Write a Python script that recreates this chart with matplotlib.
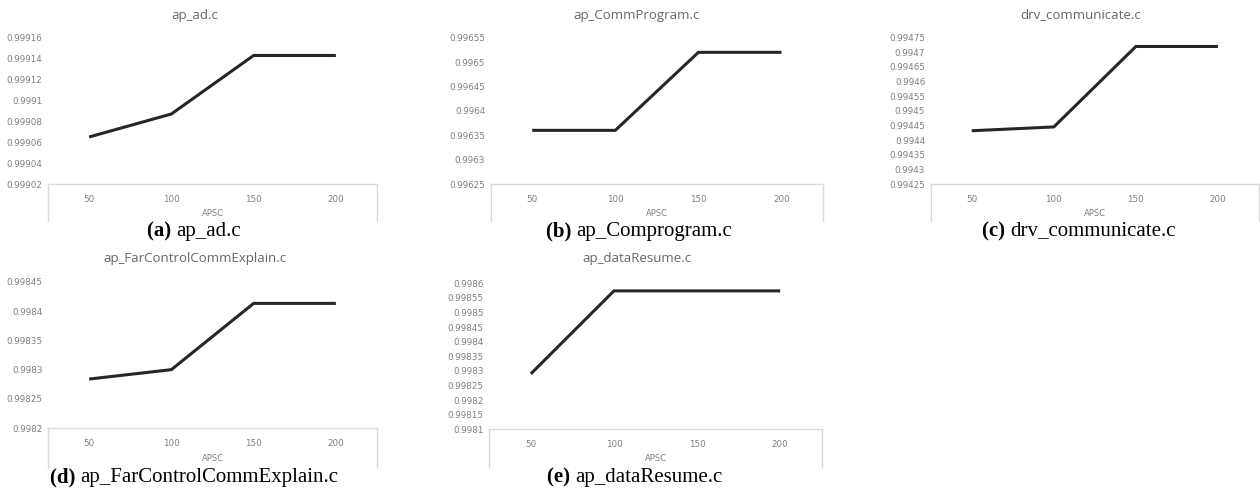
import numpy as np
import matplotlib
matplotlib.use("Agg")
import matplotlib.pyplot as plt
from matplotlib.ticker import FixedLocator, FuncFormatter

# APSC budgets on the category axis
apsc = ['50', '100', '150', '200']

# values, one list per source file
ap_ad = [0.999065, 0.999087, 0.999143, 0.999143]
ap_comm = [0.99636, 0.99636, 0.99652, 0.99652]
drv_comm = [0.994432, 0.994445, 0.99472, 0.99472]
ap_far = [0.998284, 0.99830, 0.998413, 0.998413]
ap_data = [0.998290, 0.998574, 0.998574, 0.998574]

titles = ['ap_ad.c', 'ap_CommProgram.c', 'drv_communicate.c',
          'ap_FarControlCommExplain.c', 'ap_dataResume.c']
captions = [('(a)', 'ap_ad.c'), ('(b)', 'ap_Comprogram.c'),
            ('(c)', 'drv_communicate.c'), ('(d)', 'ap_FarControlCommExplain.c'),
            ('(e)', 'ap_dataResume.c')]

# y ticks as shown in each panel
y_ticks_a = [0.99902, 0.99904, 0.99906, 0.99908, 0.9991, 0.99912, 0.99914, 0.99916]
y_ticks_b = [0.99625, 0.9963, 0.99635, 0.9964, 0.99645, 0.9965, 0.99655]
y_ticks_c = [0.99425, 0.9943, 0.99435, 0.9944, 0.99445, 0.9945, 0.99455,
             0.9946, 0.99465, 0.9947, 0.99475]
y_ticks_d = [0.9982, 0.99825, 0.9983, 0.99835, 0.9984, 0.99845]
y_ticks_e = [0.9981, 0.99815, 0.9982, 0.99825, 0.9983, 0.99835, 0.9984,
             0.99845, 0.9985, 0.99855, 0.9986]

series = [ap_ad, ap_comm, drv_comm, ap_far, ap_data]
yticks = [y_ticks_a, y_ticks_b, y_ticks_c, y_ticks_d, y_ticks_e]

W, H = 1260, 494
# panel boxes in pixels: (left, right, top, bottom of plot area, frame bottom, title x, caption x)
boxes = [
    (48, 377, 37.7, 184, 221.5, 195, 194),
    (490.7, 823, 37.7, 184, 221.5, 637, 639),
    (930.7, 1259, 37.7, 184, 221.5, 1081, 1079),
    (48, 377, 281.7, 428.3, 466.7, 195, 194),
    (489.3, 821.7, 283.3, 429.3, 466.7, 637, 635),
]
title_y = [15, 15, 15, 258, 258]
caption_y = [231, 231, 231, 477, 477]
xlabel_y = [213, 213, 213, 458, 458]

tick_color = '#7f7f7f'
frame_color = '#d9d9d9'
title_color = '#666666'

fig = plt.figure(figsize=(W / 100, H / 100), dpi=100)


def fx(px):
    return px / W


def fy(py):
    return 1 - py / H


for i in range(5):
    l, r, t, b, fb, tx, cx = boxes[i]
    ax = fig.add_axes([fx(l), fy(b), fx(r) - fx(l), (b - t) / H])
    x = np.arange(len(apsc))
    ax.plot(x, series[i], color='#262626', lw=2.2, solid_capstyle='butt',
            solid_joinstyle='miter')
    ax.set_xlim(-0.5, len(apsc) - 0.5)
    ax.set_ylim(yticks[i][0], yticks[i][-1])
    ax.yaxis.set_major_locator(FixedLocator(yticks[i]))
    ax.yaxis.set_major_formatter(FuncFormatter(lambda v, p: '%g' % round(v, 6)))
    ax.set_xticks(x)
    ax.set_xticklabels(apsc)
    ax.tick_params(axis='both', length=0, labelsize=6.3, labelcolor=tick_color)
    ax.tick_params(axis='x', pad=8)
    ax.tick_params(axis='y', pad=4)
    for s in ['top', 'right', 'left']:
        ax.spines[s].set_visible(False)
    ax.spines['bottom'].set_color(frame_color)
    ax.spines['bottom'].set_linewidth(1.0)
    # side edges of the box under the category axis
    depth = (fb - b) / (b - t)
    for xe in (0, 1):
        ax.plot([xe, xe], [0, -depth], transform=ax.transAxes, clip_on=False,
                color=frame_color, lw=1.0)

    fig.text(fx(tx), fy(title_y[i]), titles[i], ha='center', va='center',
             fontsize=9.5, color=title_color, family='Open Sans')
    fig.text(fx((l + r) / 2), fy(xlabel_y[i]), 'APSC', ha='center',
             va='center', fontsize=6, color=tick_color)

    tag, name = captions[i]
    t1 = fig.text(0, fy(caption_y[i]), tag + ' ', ha='left', va='center',
                  fontsize=15, fontweight='bold', family='Liberation Serif')
    t2 = fig.text(0, fy(caption_y[i]), name, ha='left', va='center',
                  fontsize=15, family='Liberation Serif')
    fig.canvas.draw()
    rend = fig.canvas.get_renderer()
    w1 = t1.get_window_extent(rend).width
    w2 = t2.get_window_extent(rend).width
    start = cx - (w1 + w2) / 2
    t1.set_x(fx(start))
    t2.set_x(fx(start + w1))

fig.savefig('out.png', dpi=100)
